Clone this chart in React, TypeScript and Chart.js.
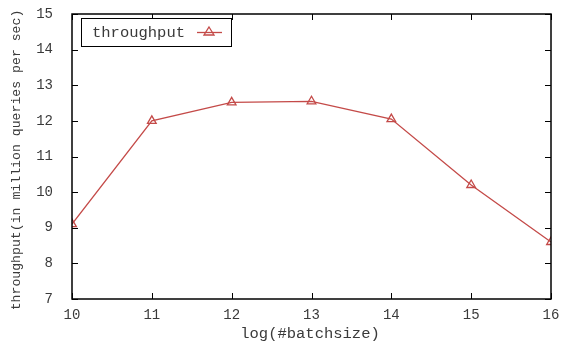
import React, { useEffect, useRef } from "react";
import { Chart, registerables } from "chart.js";

Chart.register(...registerables);

const batchLog: number[] = [10, 11, 12, 13, 14, 15, 16];
const throughput: number[] = [9.1, 12.0, 12.52, 12.55, 12.05, 10.2, 8.6];
const seriesLabel = "throughput";
const xTitle = "log(#batchsize)";
const yTitle = "throughput(in million queries per sec)";

const RED = "#c44a48";
const TEXT = "#3a3a3a";
const FONT = "'Liberation Mono', 'DejaVu Sans Mono', monospace";

const framePlugin = {
  id: "gnuframe",
  afterDraw(chart: any) {
    const { ctx, chartArea } = chart;
    const { left, right, top, bottom } = chartArea;
    const xs = chart.scales.x;
    const ys = chart.scales.y;
    ctx.save();
    ctx.strokeStyle = "#000";
    ctx.lineWidth = 1.5;
    ctx.strokeRect(left, top, right - left, bottom - top);
    ctx.lineWidth = 1;
    const tl = 6;
    xs.ticks.forEach((t: any) => {
      const px = Math.round(xs.getPixelForValue(t.value)) + 0.5;
      ctx.beginPath();
      ctx.moveTo(px, bottom);
      ctx.lineTo(px, bottom - tl);
      ctx.moveTo(px, top);
      ctx.lineTo(px, top + tl);
      ctx.stroke();
    });
    ys.ticks.forEach((t: any) => {
      const py = Math.round(ys.getPixelForValue(t.value)) + 0.5;
      ctx.beginPath();
      ctx.moveTo(left, py);
      ctx.lineTo(left + tl, py);
      ctx.moveTo(right, py);
      ctx.lineTo(right - tl, py);
      ctx.stroke();
    });
    // titles
    ctx.fillStyle = TEXT;
    ctx.font = `15.5px ${FONT}`;
    ctx.textAlign = "center";
    ctx.textBaseline = "middle";
    ctx.fillText(xTitle, 310, 334);
    ctx.save();
    ctx.font = `13.2px ${FONT}`;
    ctx.translate(17, 160);
    ctx.rotate(-Math.PI / 2);
    ctx.fillText(yTitle, 0, 0);
    ctx.restore();
    // legend
    const lx = 81;
    const ly = 18;
    const lw = 150;
    const lh = 28;
    ctx.fillStyle = "#fff";
    ctx.fillRect(lx, ly, lw, lh);
    ctx.strokeStyle = "#000";
    ctx.lineWidth = 1;
    ctx.strokeRect(lx + 0.5, ly + 0.5, lw, lh);
    ctx.fillStyle = TEXT;
    ctx.font = `15.5px ${FONT}`;
    ctx.textAlign = "left";
    ctx.fillText(seriesLabel, lx + 11, ly + lh / 2 + 1);
    ctx.strokeStyle = RED;
    ctx.lineWidth = 1.3;
    ctx.beginPath();
    ctx.moveTo(lx + 116, ly + lh / 2 + 0.5);
    ctx.lineTo(lx + 141, ly + lh / 2 + 0.5);
    ctx.stroke();
    const cx = lx + 128;
    const cy = ly + lh / 2 - 0.5;
    ctx.beginPath();
    ctx.moveTo(cx, cy - 4.5);
    ctx.lineTo(cx + 5, cy + 3.5);
    ctx.lineTo(cx - 5, cy + 3.5);
    ctx.closePath();
    ctx.stroke();
    ctx.restore();
  },
};

export default function App() {
  const ref = useRef<HTMLCanvasElement>(null);
  useEffect(() => {
    if (!ref.current) return;
    const chart = new Chart(ref.current, {
      type: "line",
      data: {
        datasets: [
          {
            label: seriesLabel,
            data: batchLog.map((x, i) => ({ x, y: throughput[i] })),
            borderColor: RED,
            backgroundColor: "rgba(0,0,0,0)",
            borderWidth: 1.3,
            pointStyle: "triangle",
            pointRadius: 5,
            pointBorderWidth: 1.3,
            pointBorderColor: RED,
            pointBackgroundColor: "rgba(0,0,0,0)",
            tension: 0,
          },
        ],
      },
      options: {
        animation: false,
        responsive: false,
        maintainAspectRatio: false,
        layout: { padding: { top: 14, right: 14, left: 0, bottom: 0 } },
        plugins: { legend: { display: false }, tooltip: { enabled: false } },
        scales: {
          x: {
            type: "linear",
            min: 10,
            max: 16,
            grid: { display: false },
            border: { display: false },
            ticks: {
              stepSize: 1,
              padding: 0,
              color: TEXT,
              font: { family: FONT, size: 14 },
              maxRotation: 0,
            },
            afterFit: (s: any) => {
              s.height = 47;
              s.paddingLeft = 0;
              s.paddingRight = 0;
            },
          },
          y: {
            type: "linear",
            min: 7,
            max: 15,
            grid: { display: false },
            border: { display: false },
            ticks: {
              stepSize: 1,
              padding: 11,
              color: TEXT,
              font: { family: FONT, size: 14 },
            },
            afterFit: (s: any) => {
              s.width = 72;
              s.paddingTop = 0;
              s.paddingBottom = 0;
            },
          },
        },
      },
      plugins: [framePlugin],
    });
    return () => chart.destroy();
  }, []);
  return (
    <div style={{ position: "fixed", left: 0, top: 0, width: 565, height: 346, background: "#fff" }}>
      <canvas ref={ref} width={565} height={346} />
    </div>
  );
}
